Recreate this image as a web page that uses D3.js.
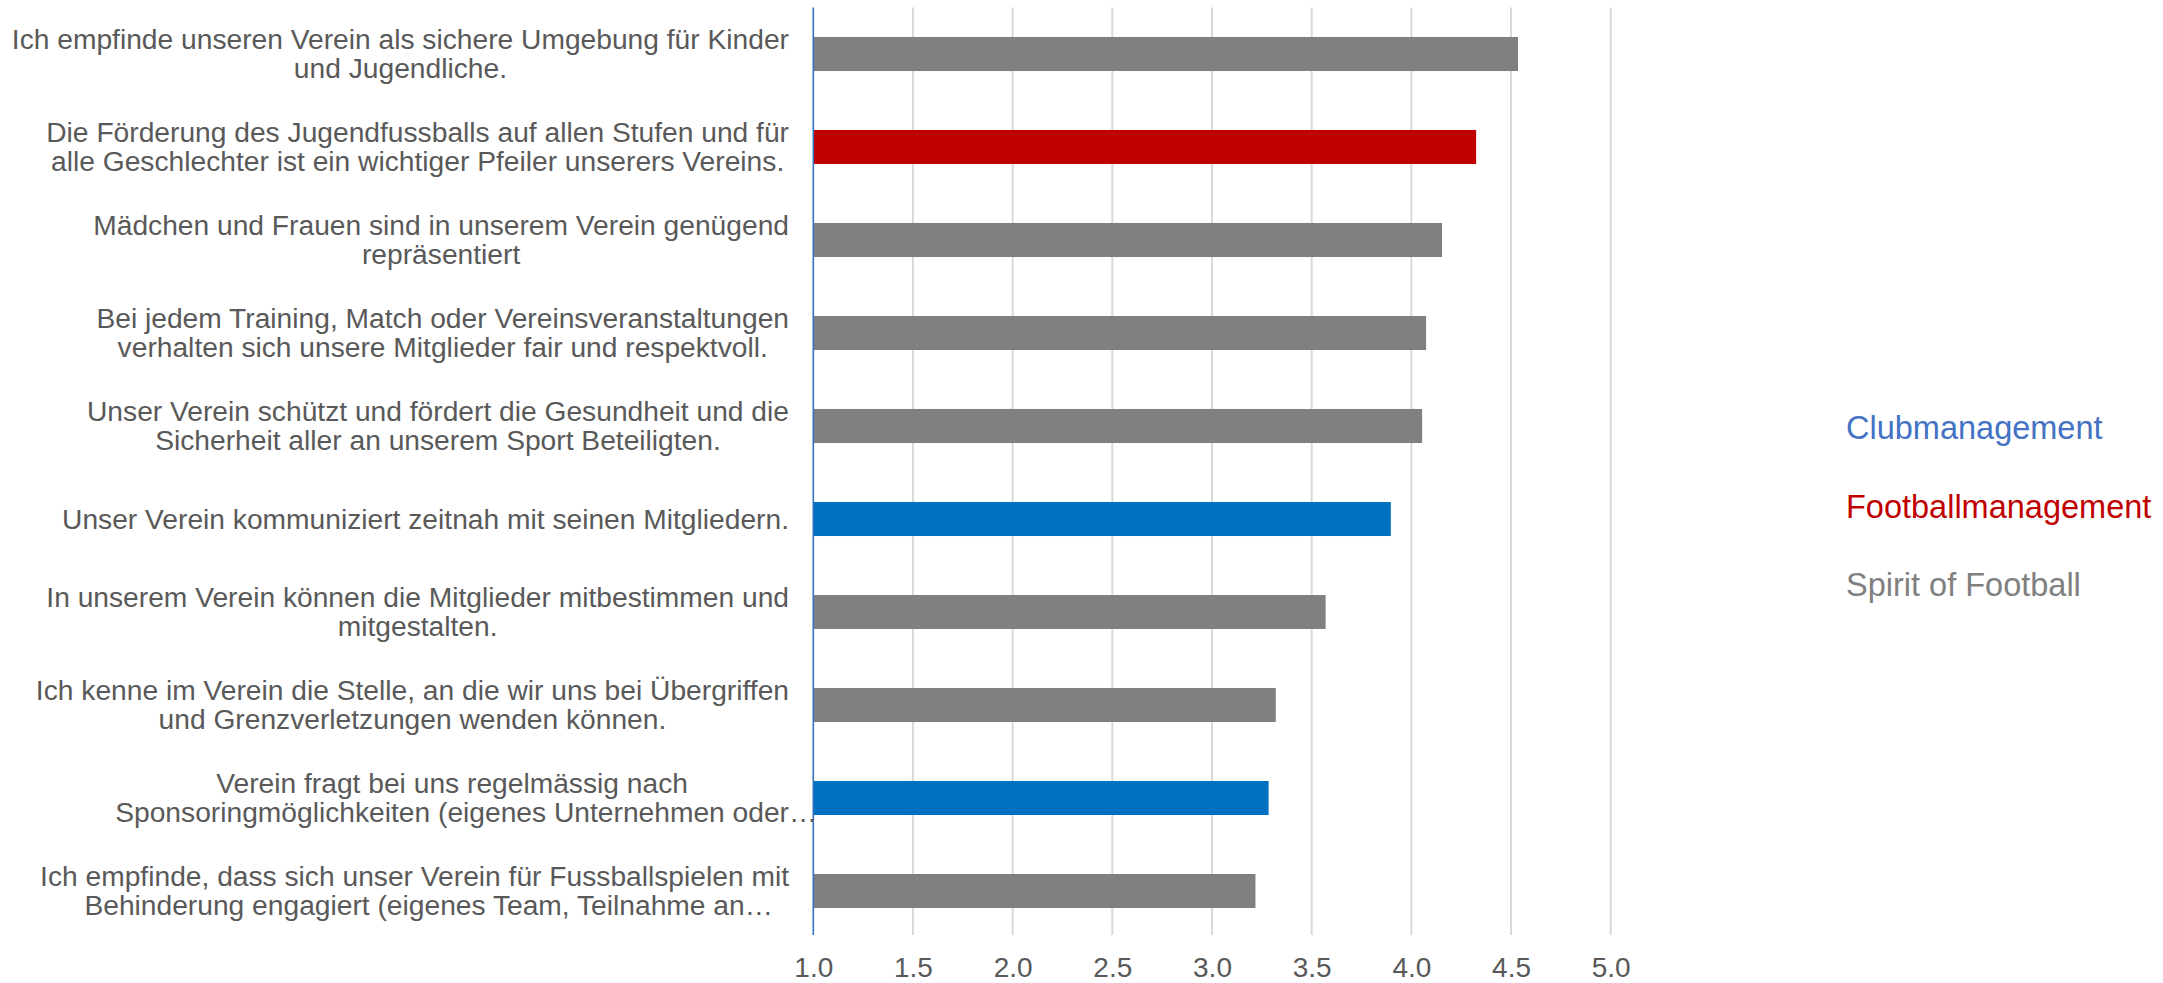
<!DOCTYPE html>
<html>
<head>
<meta charset="utf-8">
<script src="https://cdn.jsdelivr.net/npm/d3@7"></script>
<style>
  html, body { margin: 0; padding: 0; background: #ffffff; }
  svg { display: block; }
  text { font-family: "Liberation Sans", Arial, sans-serif; }
</style>
</head>
<body>
<svg id="chart" width="2163" height="983"></svg>
<script>
// ---- data (top to bottom) ----
const categories = [
  "Ich empfinde unseren Verein als sichere Umgebung für Kinder\nund Jugendliche.",
  "Die Förderung des Jugendfussballs auf allen Stufen und für\nalle Geschlechter ist ein wichtiger Pfeiler unserers Vereins.",
  "Mädchen und Frauen sind in unserem Verein genügend\nrepräsentiert",
  "Bei jedem Training, Match oder Vereinsveranstaltungen\nverhalten sich unsere Mitglieder fair und respektvoll.",
  "Unser Verein schützt und fördert die Gesundheit und die\nSicherheit aller an unserem Sport Beteiligten.",
  "Unser Verein kommuniziert zeitnah mit seinen Mitgliedern.",
  "In unserem Verein können die Mitglieder mitbestimmen und\nmitgestalten.",
  "Ich kenne im Verein die Stelle, an die wir uns bei Übergriffen\nund Grenzverletzungen wenden können.",
  "Verein fragt bei uns regelmässig nach\nSponsoringmöglichkeiten (eigenes Unternehmen oder…",
  "Ich empfinde, dass sich unser Verein für Fussballspielen mit\nBehinderung engagiert (eigenes Team, Teilnahme an…"
];
const values = [4.535, 4.325, 4.154, 4.074, 4.054, 3.897, 3.57, 3.32, 3.284, 3.218];
const groups = ["Spirit of Football", "Footballmanagement", "Spirit of Football", "Spirit of Football",
  "Spirit of Football", "Clubmanagement", "Spirit of Football", "Spirit of Football",
  "Clubmanagement", "Spirit of Football"];
const legendItems = ["Clubmanagement", "Footballmanagement", "Spirit of Football"];
const barColors = ["#0070C0", "#C00000", "#808080"];
const legendColors = ["#4472C4", "#C00000", "#808080"];
const tickValues = [1.0, 1.5, 2.0, 2.5, 3.0, 3.5, 4.0, 4.5, 5.0];

// ---- layout ----
const svg = d3.select("#chart");
const plotLeft = 813.3, plotRight = 1610.7, plotTop = 7.5, plotBottom = 937.5;
const labelRight = 789;
const labelFont = 28.2, tickFont = 28, legendFont = 32.5;
const lineGap = 29.5;
const textColor = "#595959";

const x = d3.scaleLinear().domain([1, 5]).range([plotLeft, plotRight]);
const y = d3.scaleBand().domain(categories).range([plotTop, plotBottom])
  .paddingInner(0.634).paddingOuter(0.317);
const barColor = d3.scaleOrdinal().domain(legendItems).range(barColors);
const legendColor = d3.scaleOrdinal().domain(legendItems).range(legendColors);

// gridlines
svg.append("g").selectAll("line").data(tickValues.slice(1)).join("line")
  .attr("x1", d => x(d)).attr("x2", d => x(d))
  .attr("y1", plotTop).attr("y2", 935)
  .attr("stroke", "#D9D9D9").attr("stroke-width", 2);

// bars
svg.append("g").selectAll("rect").data(categories).join("rect")
  .attr("x", x(1))
  .attr("y", d => y(d))
  .attr("width", (d, i) => x(values[i]) - x(1))
  .attr("height", y.bandwidth())
  .attr("fill", (d, i) => barColor(groups[i]));

// vertical axis line
svg.append("line")
  .attr("x1", x(1)).attr("x2", x(1))
  .attr("y1", plotTop).attr("y2", 935)
  .attr("stroke", "#2F75C2").attr("stroke-width", 1.6);

// x-axis tick labels
const xAxis = d3.axisBottom(x).tickValues(tickValues).tickFormat(d3.format(".1f"))
  .tickSize(0).tickPadding(22);
const gx = svg.append("g").attr("transform", "translate(0,935)").call(xAxis);
gx.select(".domain").remove();
gx.selectAll("text").attr("font-size", tickFont).attr("fill", textColor)
  .attr("font-family", '"Liberation Sans", Arial, sans-serif');

// category labels
const measure = svg.append("text").attr("font-size", labelFont).attr("visibility", "hidden");
function textWidth(s) { measure.text(s); return measure.node().getComputedTextLength(); }

const gl = svg.append("g");
categories.forEach(cat => {
  const lines = cat.split("\n");
  const widths = lines.map(l => textWidth(l.replace(/…$/, "")));
  const maxW = d3.max(widths);
  const cx = labelRight - maxW / 2;
  const cy = y(cat) + y.bandwidth() / 2;
  const n = lines.length;
  lines.forEach((l, i) => {
    gl.append("text")
      .attr("x", cx - widths[i] / 2)
      .attr("y", cy + (i - (n - 1) / 2) * lineGap + 9.5)
      .attr("font-size", labelFont)
      .attr("fill", textColor)
      .text(l);
  });
});
measure.remove();

// legend
const legendX = 1846, legendY0 = 439, legendStep = 78.5;
svg.append("g").selectAll("text").data(legendItems).join("text")
  .attr("x", legendX)
  .attr("y", (d, i) => legendY0 + i * legendStep)
  .attr("font-size", legendFont)
  .attr("fill", d => legendColor(d))
  .text(d => d);
</script>
</body>
</html>
